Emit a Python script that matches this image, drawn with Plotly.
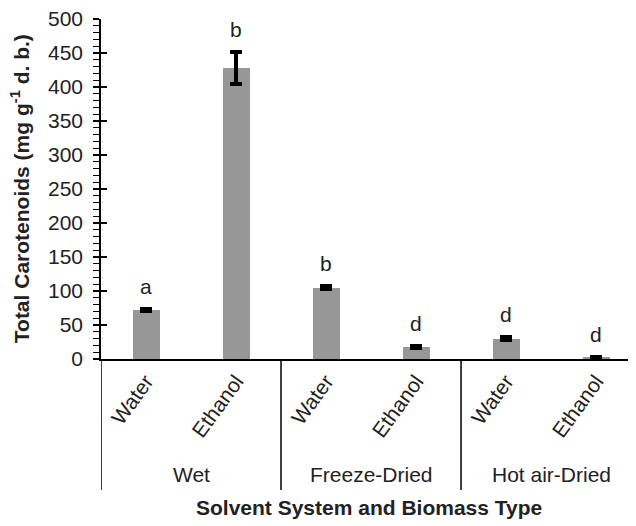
import plotly.graph_objects as go

biomass = ["Wet", "Freeze-Dried", "Hot air-Dried"]
solvents = ["Water", "Ethanol"]
values = [72, 428, 105, 17, 30, 2]
errors = [2, 23, 2, 1.5, 2, 1]
letters = ["a", "b", "b", "d", "d", "d"]
y_ticks = [0, 50, 100, 150, 200, 250, 300, 350, 400, 450, 500]

FONT = "Liberation Sans, Arial, sans-serif"
FS = 21

x_idx = list(range(len(values)))
x_labels = [s for _ in biomass for s in solvents]

fig = go.Figure()
fig.add_trace(go.Bar(
    x=x_idx, y=values, width=0.3,
    marker=dict(color="#979797", line=dict(width=0)),
    error_y=dict(type="data", array=errors, visible=True,
                 color="black", thickness=4, width=6),
    showlegend=False, hoverinfo="skip",
))
# invisible trace that activates the overlay axis used for the crossing major ticks
fig.add_trace(go.Scatter(x=[0], y=[0], yaxis="y2", mode="markers",
                         marker=dict(opacity=0), showlegend=False,
                         hoverinfo="skip"))

for i, (v, e, t) in enumerate(zip(values, errors, letters)):
    fig.add_annotation(x=i, y=v + e, text=t, showarrow=False,
                       yanchor="bottom", yshift=9,
                       font=dict(family=FONT, size=FS, color="#222"))

for g, name in enumerate(biomass):
    fig.add_annotation(x=2 * g + 0.5, xref="x", y=-0.341, yref="paper",
                       text=name, showarrow=False, yanchor="middle",
                       font=dict(family=FONT, size=FS, color="#222"))

for g in range(len(biomass)):
    fig.add_shape(type="line", xref="x", yref="paper",
                  x0=2 * g - 0.5, x1=2 * g - 0.5, y0=0, y1=-0.385,
                  line=dict(color="black", width=1.5))

fig.add_annotation(x=0.5, xref="paper", y=-0.437, yref="paper",
                   text="<b>Solvent System and Biomass Type</b>",
                   showarrow=False, yanchor="middle",
                   font=dict(family=FONT, size=FS, color="#222"))
fig.add_annotation(x=-0.151, xref="paper", y=0.5, yref="paper",
                   text="<b>Total Carotenoids (mg g<sup>-1</sup> d. b.)</b>",
                   showarrow=False, textangle=-90, xanchor="center",
                   font=dict(family=FONT, size=FS, color="#222"))

fig.update_layout(
    width=628, height=518,
    margin=dict(l=93, r=0, t=11, b=167),
    plot_bgcolor="white", paper_bgcolor="white",
    font=dict(family=FONT, size=FS, color="#222"),
    xaxis=dict(range=[-0.5, 5.444], tickmode="array", tickvals=x_idx,
               ticktext=x_labels, tickangle=-54, showline=True,
               linecolor="black", linewidth=1.5, ticks="", showgrid=False,
               zeroline=False, tickfont=dict(size=FS)),
    yaxis=dict(range=[0, 500], tickmode="array", tickvals=y_ticks,
               ticks="outside", ticklen=6, tickwidth=1.5, tickcolor="black",
               showline=True, linecolor="black", linewidth=1.5,
               showgrid=False, zeroline=False, ticklabelstandoff=6,
               ticklabeloverflow="allow",
               minor=dict(dtick=10, ticks="outside", ticklen=6,
                          tickwidth=1.2, tickcolor="black", showgrid=False),
               tickfont=dict(size=FS)),
    yaxis2=dict(range=[0, 500], overlaying="y", side="left",
                tickmode="array", tickvals=y_ticks, ticks="inside",
                ticklen=6, tickwidth=1.5, tickcolor="black",
                showticklabels=False, showline=False, showgrid=False,
                zeroline=False),
    bargap=0,
)

fig.write_html("out.html")
